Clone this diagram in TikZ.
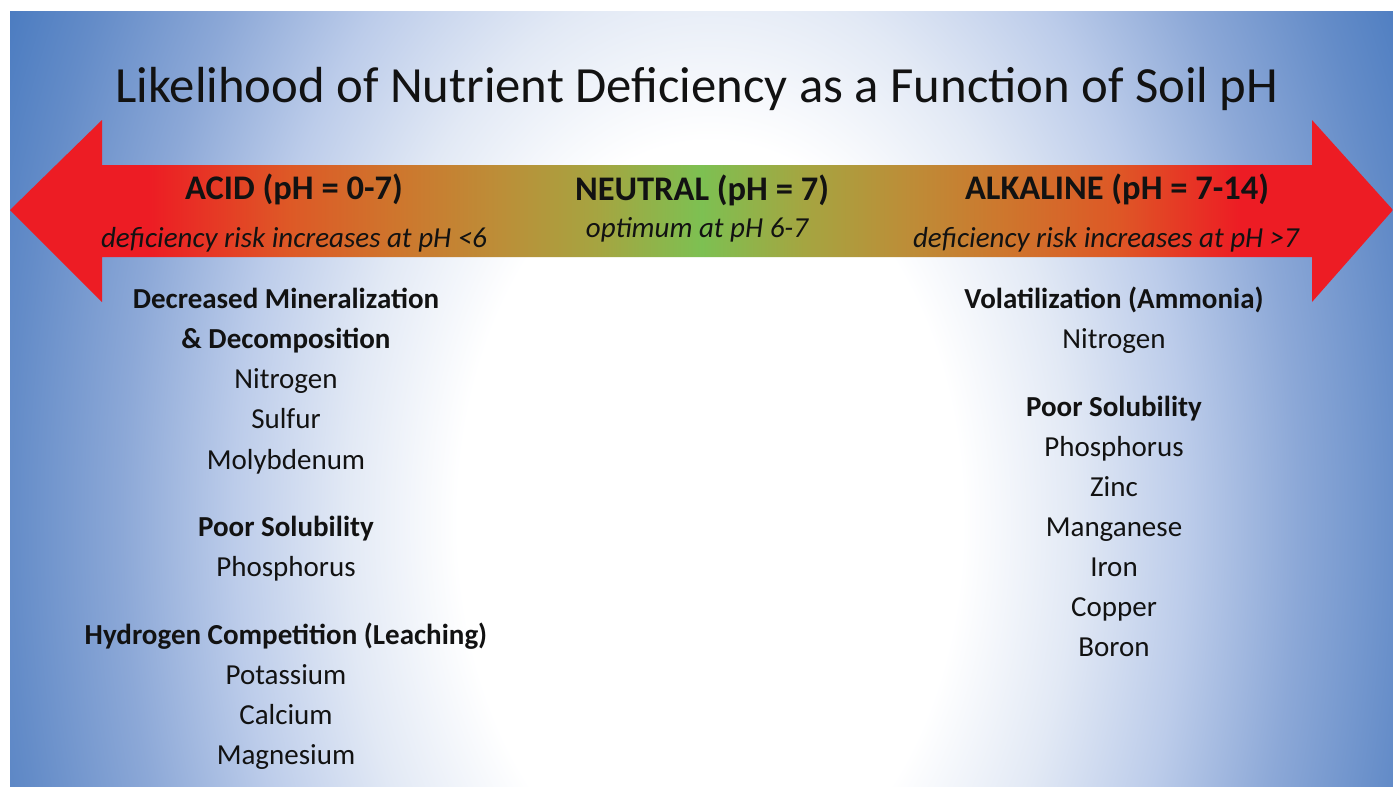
\documentclass[tikz,border=0pt]{standalone}
\usepackage{fontspec}
\setmainfont{Carlito}
\definecolor{bgA}{RGB}{226,233,245}
\definecolor{bgB}{RGB}{188,204,234}
\definecolor{bgC}{RGB}{140,168,215}
\definecolor{bgD}{RGB}{100,140,200}
\definecolor{bgE}{RGB}{74,123,192}
\definecolor{arRed}{RGB}{237,28,36}
\definecolor{arRO}{RGB}{222,88,38}
\definecolor{arOr}{RGB}{206,118,45}
\definecolor{arTan}{RGB}{188,142,56}
\definecolor{arOl}{RGB}{165,165,65}
\definecolor{arGr}{RGB}{125,192,82}
\definecolor{txt}{RGB}{18,18,18}
% note: the inner 50bp square (25bp..75bp) of a shading covers the path's bounding box
\pgfdeclareradialshading{bgshade}{\pgfpoint{0bp}{0bp}}{color(0bp)=(white); color(9bp)=(white); color(13bp)=(bgA); color(17bp)=(bgB); color(21bp)=(bgC); color(25bp)=(bgD); color(28bp)=(bgE); color(100bp)=(bgE)}
\pgfdeclarehorizontalshading{arrowshade}{100bp}{color(0bp)=(arRed); color(30bp)=(arRed); color(35bp)=(arRO); color(39bp)=(arOr); color(42.7bp)=(arTan); color(46.3bp)=(arOl); color(50bp)=(arGr); color(53.7bp)=(arOl); color(57.3bp)=(arTan); color(61bp)=(arOr); color(65bp)=(arRO); color(69.5bp)=(arRed); color(100bp)=(arRed)}
\tikzset{
  txtnode/.style={anchor=base, inner sep=0pt, text=txt},
  titletext/.style={txtnode, font=\fontsize{50.7}{56}\selectfont},
  headtext/.style={txtnode, font=\bfseries\fontsize{34.5}{38}\selectfont},
  subtext/.style={txtnode, font=\itshape\fontsize{29}{33}\selectfont},
  grouptext/.style={txtnode, font=\bfseries\fontsize{29}{33}\selectfont},
  itemtext/.style={txtnode, font=\fontsize{29}{33}\selectfont},
}
\begin{document}
\begin{tikzpicture}[x=1pt, y=-1pt]
\useasboundingbox (0,0) rectangle (1393,788);
\fill[white] (0,0) rectangle (1393,788);
% background
\begin{scope}
  \clip (10,11) rectangle (1393,786);
  \shade[shading=bgshade] (10,-530) rectangle (1410,1570);
\end{scope}
% double arrow
\shade[shading=arrowshade] (10,210) -- (102,120) -- (102,165) -- (1312,165) -- (1312,120) -- (1393,210) -- (1312,302) -- (1312,257) -- (102,257) -- (102,302) -- cycle;
% title
\node[titletext] (title) at (697,102) {Likelihood of Nutrient Deficiency as a Function of Soil pH};
% arrow labels
\node[headtext] (acid) at (294,199) {ACID (pH = 0-7)};
\node[subtext] (acidsub) at (294,247) {deficiency risk increases at pH <6};
\node[headtext] (neutral) at (702,200) {NEUTRAL (pH = 7)};
\node[subtext] (neutralsub) at (697,237) {optimum at pH 6-7};
\node[headtext] (alk) at (1117,199) {ALKALINE (pH = 7-14)};
\node[subtext] (alksub) at (1106,247) {deficiency risk increases at pH >7};
% left column
\node[grouptext] (l1) at (286,308) {Decreased Mineralization};
\node[grouptext] (l2) at (286,348) {\& Decomposition};
\node[itemtext] (l3) at (286,388) {Nitrogen};
\node[itemtext] (l4) at (286,428) {Sulfur};
\node[itemtext] (l5) at (286,469) {Molybdenum};
\node[grouptext] (l6) at (286,536) {Poor Solubility};
\node[itemtext] (l7) at (286,576) {Phosphorus};
\node[grouptext] (l8) at (286,644) {Hydrogen Competition (Leaching)};
\node[itemtext] (l9) at (286,684) {Potassium};
\node[itemtext] (l10) at (286,724) {Calcium};
\node[itemtext] (l11) at (286,764) {Magnesium};
% right column
\node[grouptext] (r1) at (1114,308) {Volatilization (Ammonia)};
\node[itemtext] (r2) at (1114,348) {Nitrogen};
\node[grouptext] (r3) at (1114,416) {Poor Solubility};
\node[itemtext] (r4) at (1114,456) {Phosphorus};
\node[itemtext] (r5) at (1114,496) {Zinc};
\node[itemtext] (r6) at (1114,536) {Manganese};
\node[itemtext] (r7) at (1114,576) {Iron};
\node[itemtext] (r8) at (1114,616) {Copper};
\node[itemtext] (r9) at (1114,656) {Boron};
\end{tikzpicture}
\end{document}
